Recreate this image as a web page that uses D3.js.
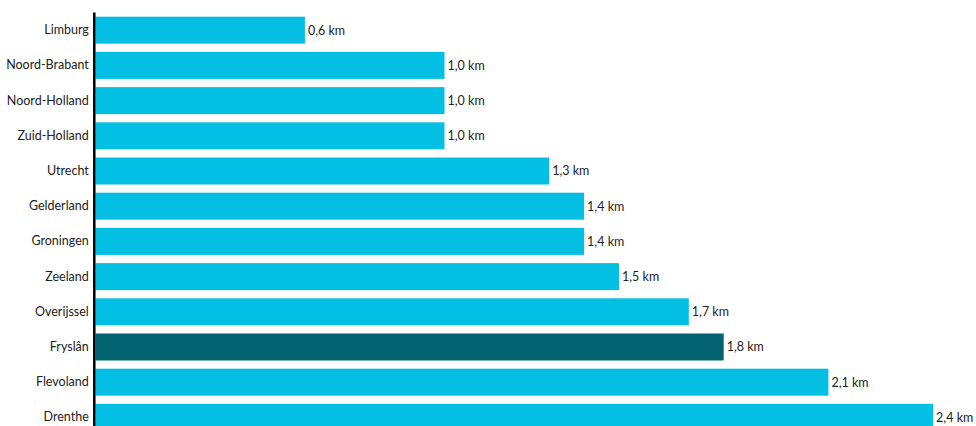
<!DOCTYPE html>
<html>
<head>
<meta charset="utf-8">
<script src="https://cdn.jsdelivr.net/npm/d3@7"></script>
<style>
  body { margin: 0; background: #fff; }
  svg { display: block; font-family: Lato, sans-serif; }
</style>
</head>
<body>
<div id="wrapper"></div>
<script>
// Provinces and distance (km), top to bottom.
const provinces = ["Limburg", "Noord-Brabant", "Noord-Holland", "Zuid-Holland", "Utrecht",
  "Gelderland", "Groningen", "Zeeland", "Overijssel", "Fryslân", "Flevoland", "Drenthe"]
const distances = [0.6, 1.0, 1.0, 1.0, 1.3, 1.4, 1.4, 1.5, 1.7, 1.8, 2.1, 2.4]
const highlighted = ["Fryslân"]

const dataset = provinces.map((p, i) => ({ province: p, km: distances[i] }))

const xAccessor = d => d.km
const yAccessor = d => d.province

const dimensions = {
  width: 976,
  height: 426,
  margin: { top: 12.6, left: 95.5 },
  step: 35.2,
}

function drawBars() {
  const wrapper = d3.select("#wrapper")
    .append("svg")
      .attr("width", dimensions.width)
      .attr("height", dimensions.height)

  const xScale = d3.scaleLinear()
    .domain([0, 2.4])
    .range([dimensions.margin.left, dimensions.margin.left + 349 * 2.4])

  const yScale = d3.scaleBand()
    .domain(provinces)
    .range([dimensions.margin.top, dimensions.margin.top + dimensions.step * provinces.length])
    .paddingInner(0.233)
    .paddingOuter(0.1165)

  wrapper.append("g")
    .selectAll("rect")
    .data(dataset)
    .join("rect")
      .attr("x", xScale(0))
      .attr("y", d => yScale(yAccessor(d)))
      .attr("width", d => xScale(xAccessor(d)) - xScale(0))
      .attr("height", yScale.bandwidth())
      .attr("fill", d => highlighted.includes(d.province) ? "#00636f" : "#04bfe4")

  const fmt = d3.format(".1f")
  wrapper.append("g")
    .selectAll("text")
    .data(dataset)
    .join("text")
      .attr("x", d => xScale(xAccessor(d)) + 3)
      .attr("y", d => yScale(yAccessor(d)) + yScale.bandwidth() / 2)
      .attr("dy", "0.35em")
      .attr("font-size", 12.5)
      .attr("fill", "#222")
      .text(d => fmt(xAccessor(d)).replace(".", ",") + " km")

  const yAxisGenerator = d3.axisLeft(yScale)
    .tickSize(0)
    .tickPadding(5.5)

  const yAxis = wrapper.append("g")
    .attr("transform", `translate(${dimensions.margin.left - 1.2},0)`)
    .call(yAxisGenerator)
  yAxis.select(".domain")
    .attr("stroke", "#000")
    .attr("stroke-width", 2.5)
    .attr("d", `M0,${dimensions.margin.top}V${dimensions.height + 20}`)
  yAxis.selectAll("text")
    .attr("font-family", "Lato, sans-serif")
    .attr("font-size", 12.5)
    .attr("fill", "#222")
}

drawBars()
</script>
</body>
</html>
